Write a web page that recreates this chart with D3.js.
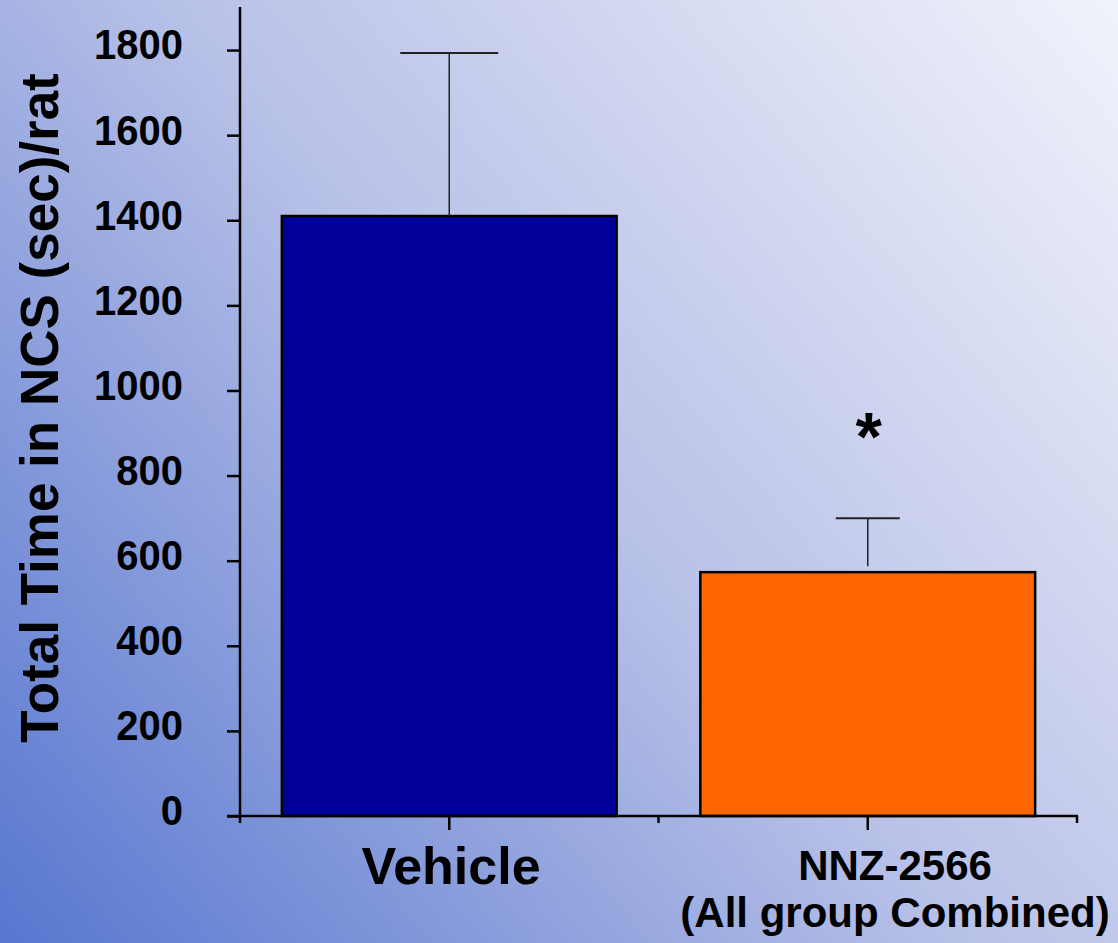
<!DOCTYPE html>
<html>
<head>
<meta charset="utf-8">
<script src="https://cdn.jsdelivr.net/npm/d3@7"></script>
<style>
  html, body { margin: 0; padding: 0; }
  svg { display: block; }
  text { font-family: Arial, "Liberation Sans", sans-serif; font-weight: bold; fill: #000; }
</style>
</head>
<body>
<svg id="chart" width="1118" height="943"></svg>
<script>
// ---- data ----
const categories = ["Vehicle", "NNZ-2566"];
const categoryLines = [["Vehicle"], ["NNZ-2566", "(All group Combined)"]];
const values = [1410, 573];
const errors = [383, 127];
const barColors = ["#000099", "#ff6600"];
const yTicks = [0, 200, 400, 600, 800, 1000, 1200, 1400, 1600, 1800];
const yTitle = "Total Time in NCS (sec)/rat";
const significance = ["", "*"];

// ---- layout ----
const W = 1118, H = 943;
const svg = d3.select("#chart");

const defs = svg.append("defs");
const grad = defs.append("linearGradient")
  .attr("id", "bg").attr("gradientUnits", "userSpaceOnUse")
  .attr("x1", 0).attr("y1", H).attr("x2", W).attr("y2", 0);
grad.append("stop").attr("offset", "0").attr("stop-color", "#5676cf");
grad.append("stop").attr("offset", "0.5").attr("stop-color", "#b7c0e7");
grad.append("stop").attr("offset", "1").attr("stop-color", "#f1f3fb");
svg.append("rect").attr("width", W).attr("height", H).attr("fill", "url(#bg)");

const x = d3.scaleBand().domain(categories).range([240, 1077])
  .paddingInner(0.2).paddingOuter(0.1);
const y = d3.scaleLinear().domain([0, 1900]).range([816, 7.5]);

// bars
svg.selectAll("rect.bar").data(categories).enter().append("rect")
  .attr("class", "bar")
  .attr("x", d => x(d))
  .attr("y", (d, i) => y(values[i]))
  .attr("width", x.bandwidth())
  .attr("height", (d, i) => y(0) - y(values[i]))
  .attr("fill", (d, i) => barColors[i])
  .attr("stroke", "#000").attr("stroke-width", 2.5);

// error bars
const capHalf = [49, 32];
categories.forEach((c, i) => {
  const cx = x(c) + x.bandwidth() / 2;
  const top = y(values[i] + errors[i]);
  const bot = y(values[i]) - (i === 1 ? 6 : 0);
  svg.append("line").attr("x1", cx).attr("x2", cx).attr("y1", top).attr("y2", bot)
    .attr("stroke", "#222").attr("stroke-width", 1.5);
  svg.append("line").attr("x1", cx - capHalf[i]).attr("x2", cx + capHalf[i])
    .attr("y1", top).attr("y2", top)
    .attr("stroke", "#222").attr("stroke-width", 2);
  if (significance[i]) {
    svg.append("text").attr("x", cx + 1).attr("y", y(values[i] + errors[i]) - 58)
      .attr("text-anchor", "middle").style("font-size", "68px").text(significance[i]);
  }
});

// y axis
const yAxis = d3.axisLeft(y).tickValues(yTicks).tickSize(13).tickFormat(d3.format("d"));
const gy = svg.append("g").attr("transform", "translate(240,0)").call(yAxis);
gy.select(".domain").remove();
gy.selectAll(".tick line").attr("stroke", "#000").attr("stroke-width", 2.5);
gy.selectAll(".tick text").attr("x", -57).attr("dy", "0.3em")
  .attr("transform", "translate(0,-4) scale(1,1.07)")
  .style("font-size", "40px").style("font-family", "Arial, 'Liberation Sans', sans-serif")
  .style("font-weight", "bold").attr("fill", "#000");
svg.append("line").attr("x1", 240).attr("x2", 240).attr("y1", 7).attr("y2", 816)
  .attr("stroke", "#000").attr("stroke-width", 2.5);

// x axis
svg.append("line").attr("x1", 227).attr("x2", 1078).attr("y1", 816).attr("y2", 816)
  .attr("stroke", "#000").attr("stroke-width", 2.5);
const boundaries = [240, 1077].concat(categories.slice(1).map(c => x(c) - x.step() * x.paddingInner() / 2));
boundaries.forEach(bx => {
  svg.append("line").attr("x1", bx).attr("x2", bx).attr("y1", 816).attr("y2", 823)
    .attr("stroke", "#000").attr("stroke-width", 2.5);
});
categories.forEach(c => {
  const cx = x(c) + x.bandwidth() / 2;
  svg.append("line").attr("x1", cx).attr("x2", cx).attr("y1", 816).attr("y2", 830)
    .attr("stroke", "#000").attr("stroke-width", 2.5);
});

// category labels
svg.append("text").attr("x", 451).attr("y", 884).attr("text-anchor", "middle")
  .style("font-size", "52px").text(categoryLines[0][0]);
const t2 = svg.append("text").attr("x", 895).attr("y", 880).attr("text-anchor", "middle")
  .style("font-size", "42px");
t2.append("tspan").attr("x", 895).attr("y", 880).text(categoryLines[1][0]);
t2.append("tspan").attr("x", 895).attr("y", 927).text(categoryLines[1][1]);

// y title
svg.append("text").attr("transform", "translate(58,408) rotate(-90)")
  .attr("text-anchor", "middle").style("font-size", "53px").text(yTitle);
</script>
</body>
</html>
